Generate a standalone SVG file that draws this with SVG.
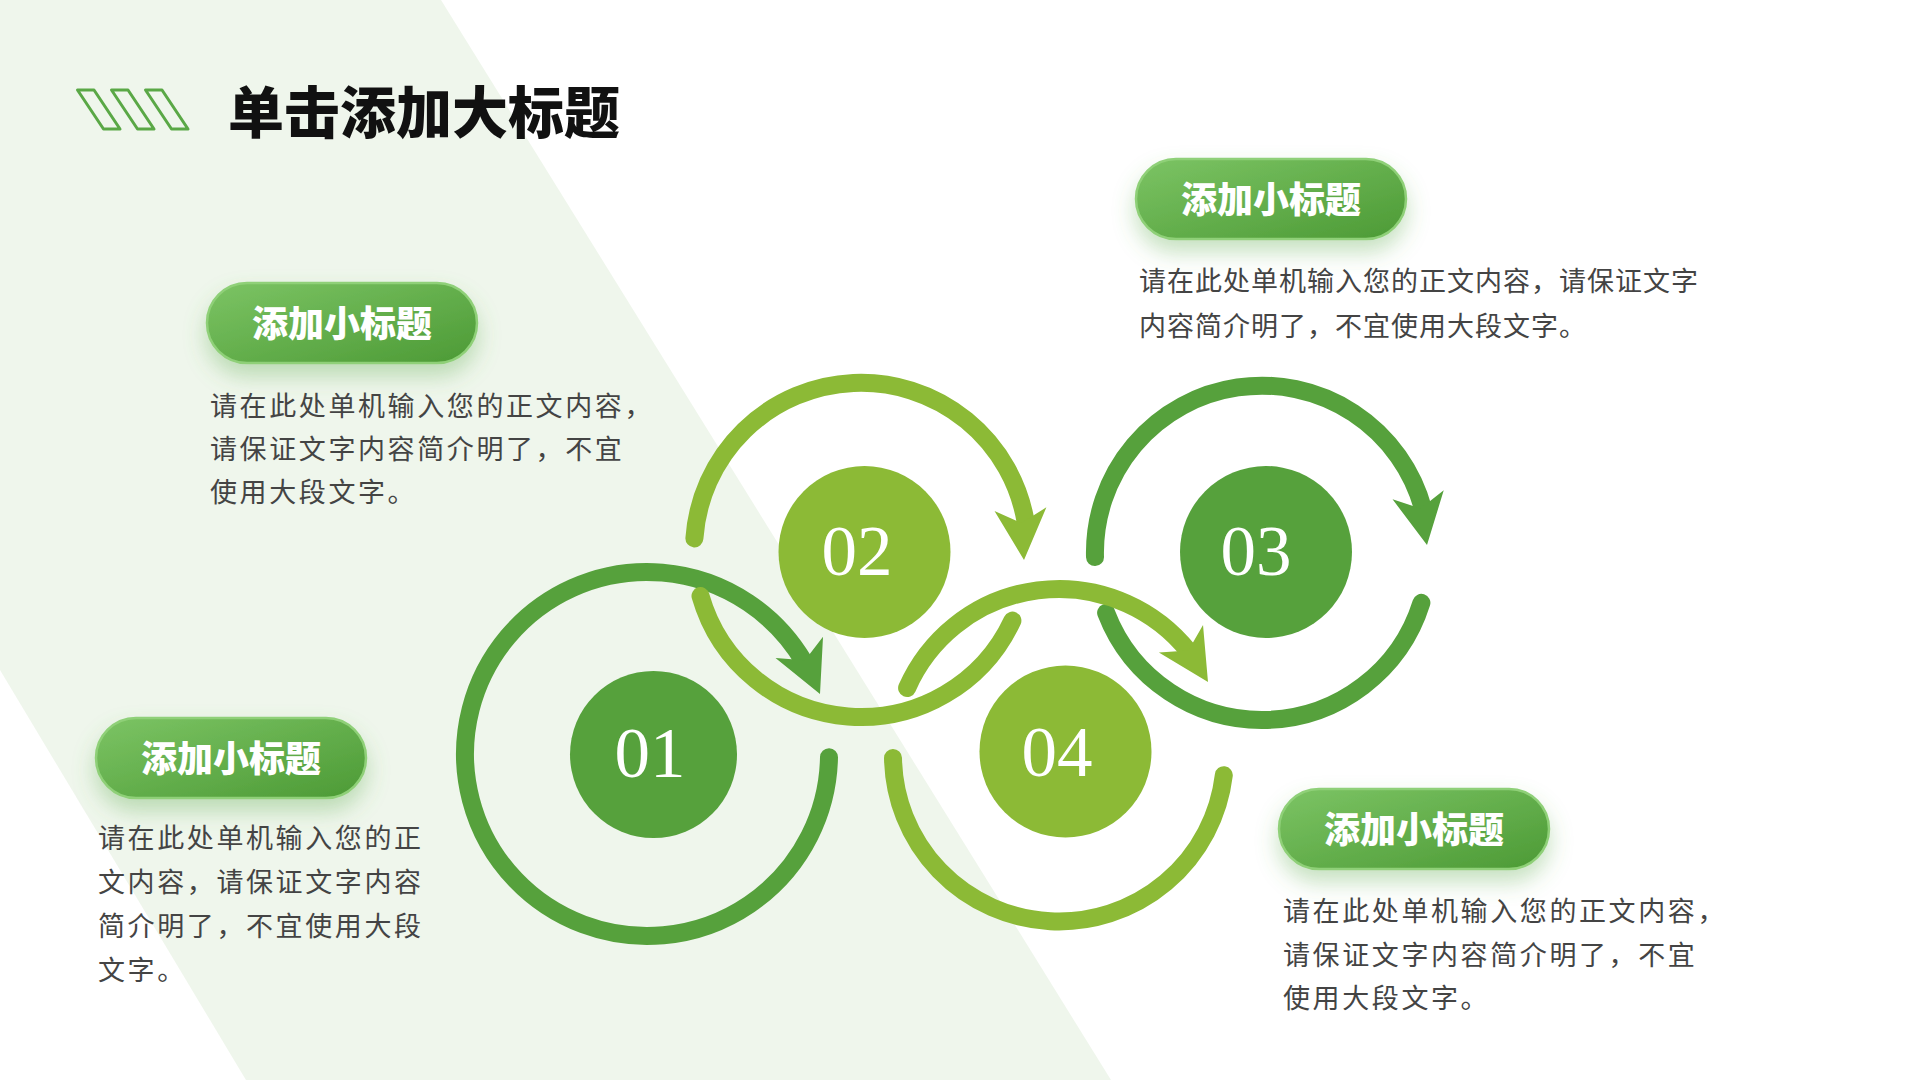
<svg xmlns="http://www.w3.org/2000/svg" xmlns:xlink="http://www.w3.org/1999/xlink" width="1920" height="1080" viewBox="0 0 1920 1080">
  <defs>
    <linearGradient id="pillGrad" x1="0" y1="0" x2="1" y2="1">
      <stop offset="0" stop-color="#7cc464"/>
      <stop offset="1" stop-color="#4c9a35"/>
    </linearGradient>
    <filter id="pillShadow" x="-30%" y="-40%" width="160%" height="220%">
      <feDropShadow dx="0" dy="12" stdDeviation="11" flood-color="#5aa846" flood-opacity="0.35"/>
    </filter>
    <path id="ah" d="M0 0 L26 -51 L0 -37 L-26 -51 Z"/>
    <style>
      .ring { fill: none; stroke-width: 18; stroke-linecap: round; }
      .dark { stroke: #56a13c; }
      .light { stroke: #8cba36; }
      .dfill { fill: #56a13c; }
      .lfill { fill: #8cba36; }
      .num { font-family: "Liberation Serif", "Times New Roman", serif; font-size: 71px; fill: #ffffff; text-anchor: middle; }
      .pill { fill: url(#pillGrad); stroke: #8fd078; stroke-width: 2.5; filter: url(#pillShadow); }
      .pilltxt { font-family: "Noto Sans CJK SC", sans-serif; font-weight: 900; font-size: 36px; fill: #ffffff; text-anchor: middle; }
      .body { font-family: "Noto Sans CJK SC", sans-serif; font-size: 27px; fill: #444444; letter-spacing: 2.6px; }
      .title { font-family: "Noto Sans CJK SC", sans-serif; font-weight: 900; font-size: 56px; fill: #111111; }
      .stripe { fill: none; stroke: #5aa846; stroke-width: 3; stroke-linejoin: round; }
    </style>
  </defs>

  <rect x="0" y="0" width="1920" height="1080" fill="#ffffff"/>
  <polygon points="0,0 441,0 1111,1080 246,1080 0,670" fill="#eff6ec"/>

  <g id="title">
    <path class="stripe" d="M77.5 90 H94 L120 129 H103.5 Z"/>
    <path class="stripe" d="M111.5 90 H128 L154 129 H137.5 Z"/>
    <path class="stripe" d="M145.5 90 H162 L188 129 H171.5 Z"/>
    <text class="title" x="228" y="133">单击添加大标题</text>
  </g>

  <g id="connectors">
    <!-- dark rings -->
    <path class="ring dark" d="M829 757.2 A182 182 0 1 1 804 661.9"/>
    <use xlink:href="#ah" class="dfill" transform="translate(820 694) rotate(-24)"/>
    <path class="ring dark" d="M1095 557.1 A167 167 0 0 1 1423.1 508.9"/>
    <use xlink:href="#ah" class="dfill" transform="translate(1427 545) rotate(-10)"/>
    <path class="ring dark" d="M1421.4 602.9 A167 167 0 0 1 1106.1 612.8"/>
    <!-- light rings -->
    <path class="ring light" d="M694.4 538.4 A167 167 0 0 1 1025.9 523.3"/>
    <use xlink:href="#ah" class="lfill" transform="translate(1024 560) rotate(-4)"/>
    <path class="ring light" d="M1012.4 620.6 A167 167 0 0 1 700.5 596"/>
    <path class="ring light" d="M907.1 688 A166 166 0 0 1 1188.7 651.4"/>
    <use xlink:href="#ah" class="lfill" transform="translate(1208 682) rotate(-32)"/>
    <path class="ring light" d="M1223.8 775.2 A166 166 0 0 1 893 757.9"/>
  </g>

  <g id="node-01">
    <circle class="dfill" cx="653.5" cy="754.5" r="83.5"/>
    <text class="num" x="650" y="777">01</text>
  </g>
  <g id="node-02">
    <circle class="lfill" cx="864.5" cy="552" r="86"/>
    <text class="num" x="857" y="575">02</text>
  </g>
  <g id="node-03">
    <circle class="dfill" cx="1266" cy="552" r="86"/>
    <text class="num" x="1256" y="575">03</text>
  </g>
  <g id="node-04">
    <circle class="lfill" cx="1065.5" cy="751.5" r="86"/>
    <text class="num" x="1057" y="776">04</text>
  </g>

  <g id="label-tl">
    <rect class="pill" x="207" y="283" width="270" height="80" rx="40"/>
    <text class="pilltxt" x="342" y="337">添加小标题</text>
    <text class="body" x="210" y="416">请在此处单机输入您的正文内容，</text>
    <text class="body" x="210" y="459">请保证文字内容简介明了，不宜</text>
    <text class="body" x="210" y="502">使用大段文字。</text>
  </g>

  <g id="label-bl">
    <rect class="pill" x="96" y="718" width="270" height="80" rx="40"/>
    <text class="pilltxt" x="231" y="772">添加小标题</text>
    <text class="body" x="98" y="848">请在此处单机输入您的正</text>
    <text class="body" x="98" y="892">文内容，请保证文字内容</text>
    <text class="body" x="98" y="936">简介明了，不宜使用大段</text>
    <text class="body" x="98" y="980">文字。</text>
  </g>

  <g id="label-tr">
    <rect class="pill" x="1136" y="159" width="270" height="80" rx="40"/>
    <text class="pilltxt" x="1271" y="213">添加小标题</text>
    <text class="body" x="1139" y="291" style="letter-spacing:1px">请在此处单机输入您的正文内容，请保证文字</text>
    <text class="body" x="1139" y="336" style="letter-spacing:1px">内容简介明了，不宜使用大段文字。</text>
  </g>

  <g id="label-br">
    <rect class="pill" x="1279" y="789" width="270" height="80" rx="40"/>
    <text class="pilltxt" x="1414" y="843">添加小标题</text>
    <text class="body" x="1283" y="921">请在此处单机输入您的正文内容，</text>
    <text class="body" x="1283" y="965">请保证文字内容简介明了，不宜</text>
    <text class="body" x="1283" y="1008">使用大段文字。</text>
  </g>
</svg>
